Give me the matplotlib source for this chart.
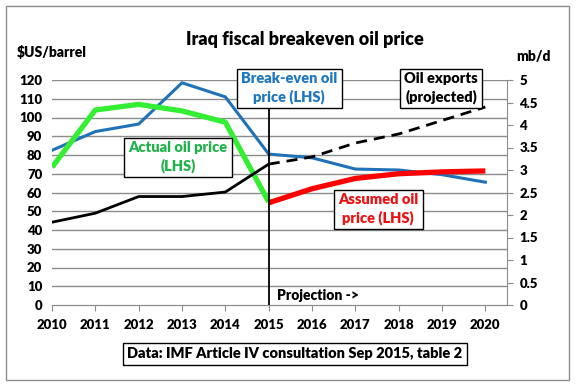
import matplotlib
matplotlib.use('Agg')
import matplotlib.pyplot as plt
from matplotlib.patches import Rectangle

plt.rcParams['font.family'] = ['Lato', 'DejaVu Sans']
plt.rcParams['font.weight'] = 'heavy'

years = [2010, 2011, 2012, 2013, 2014, 2015, 2016, 2017, 2018, 2019, 2020]
breakeven = [82.5, 92.5, 96.5, 118.5, 111, 80.5, 78.5, 72.5, 72, 69.5, 65.5]
actual_years = [2010, 2011, 2012, 2013, 2014, 2015]
actual = [73.5, 104, 107, 103.5, 97.5, 55]
assumed_years = [2015, 2016, 2017, 2018, 2019, 2020]
assumed = [54.5, 62, 67.5, 70, 71, 71.5]
exports_years = [2010, 2011, 2012, 2013, 2014, 2015]
exports = [1.84, 2.04, 2.41, 2.41, 2.51, 3.13]
proj_years = [2015, 2016, 2017, 2018, 2019, 2020]
proj_exports = [3.13, 3.29, 3.6, 3.8, 4.1, 4.4]

fig = plt.figure(figsize=(5.76, 3.87), dpi=100)
ax = fig.add_axes([52/576, 1-305/387, 455/576, 225/387])
ax2 = ax.twinx()

grid_c = '#8c8c8c'
for v in range(10, 130, 10):
    ax.axhline(v, color=grid_c, lw=1, zorder=0)

ax.plot(years, breakeven, color='#1f72b8', lw=2.2, zorder=3)
ax.plot(actual_years, actual, color='#33ee33', lw=3.8, zorder=3, solid_capstyle='butt')
ax.plot(assumed_years, assumed, color='#ff0000', lw=3.8, zorder=3, solid_capstyle='butt')
ax2.plot(exports_years, exports, color='black', lw=2, zorder=3)
ax2.plot(proj_years, proj_exports, color='black', lw=2, ls=(0, (4, 2.5)), zorder=3)
ax.axvline(2015, ymin=0, ymax=0.9, color='black', lw=1.3, zorder=4)

ax.set_xlim(2010, 2020.5)
ax.set_ylim(0, 120)
ax2.set_ylim(0, 5)
ax.set_xticks(years)
ax.set_yticks(range(0, 130, 10))
ax2.set_yticks([0, 0.5, 1, 1.5, 2, 2.5, 3, 3.5, 4, 4.5, 5])
ax2.set_yticklabels(['0', '0.5', '1', '1.5', '2', '2.5', '3', '3.5', '4', '4.5', '5'])

for a in (ax, ax2):
    for s in ['top', 'left', 'right']:
        a.spines[s].set_visible(False)
    a.spines['bottom'].set_color(grid_c)
ax2.spines['right'].set_visible(True)
ax2.spines['right'].set_color(grid_c)
ax.tick_params(axis='x', colors=grid_c, labelcolor='black', labelsize=9.5, length=4, pad=6)
ax.tick_params(axis='y', length=0, labelsize=9.5, pad=7)
ax2.tick_params(axis='y', colors=grid_c, labelcolor='black', labelsize=9.5, length=4, pad=5)

def box_text(x, y, s, color):
    fig.text(x/576, 1-y/387, s, color=color, fontsize=10.5, fontweight='heavy',
             ha='center', va='center', linespacing=1.3, zorder=10,
             bbox=dict(boxstyle='square,pad=0.3', fc='white', ec='black', lw=1))

box_text(289, 88, 'Break-even oil\nprice (LHS)', '#1f77c0')
box_text(441, 88, 'Oil exports\n(projected)', 'black')
box_text(178, 157, 'Actual oil price\n(LHS)', '#1fb24a')
box_text(378, 209, 'Assumed oil\nprice (LHS)', '#ee1111')
box_text(295, 354, 'Data: IMF Article IV consultation Sep 2015, table 2', 'black')

fig.text(277/576, 1-296/387, 'Projection ->', fontsize=10, fontweight='heavy', va='center', ha='left')
fig.text(305/576, 1-40/387, 'Iraq fiscal breakeven oil price', fontsize=13, fontweight='heavy', ha='center', va='center')
fig.text(17/576, 1-52/387, '$US/barrel', fontsize=10, fontweight='heavy', ha='left', va='center')
fig.text(516/576, 1-57/387, 'mb/d', fontsize=10, fontweight='heavy', ha='left', va='center')

fig.patches.append(Rectangle((6/576, 7/387), 563/576, 374/387, transform=fig.transFigure,
                             fill=False, ec='#8c8c8c', lw=1))

fig.savefig('out.png', dpi=100)
